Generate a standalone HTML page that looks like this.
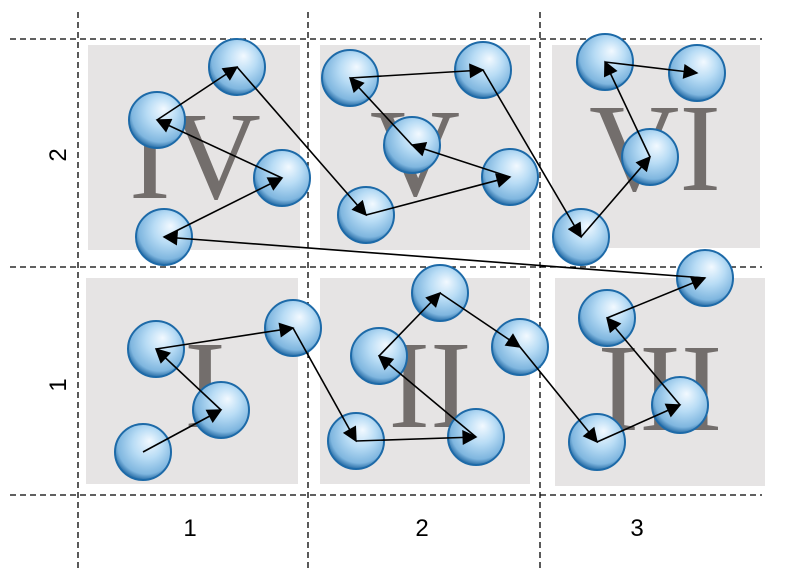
<!DOCTYPE html>
<html><head><style>body{margin:0;background:#fff}svg{display:block}</style></head><body>
<svg width="787" height="586" viewBox="0 0 787 586" xmlns="http://www.w3.org/2000/svg">
<defs>
<radialGradient id="g" cx="0.55" cy="0.4" r="0.6" fx="0.62" fy="0.3">
<stop offset="0" stop-color="#f2f9ff"/><stop offset="0.45" stop-color="#b8dcf5"/><stop offset="0.85" stop-color="#7fb6df"/><stop offset="1" stop-color="#2a6fa8"/>
</radialGradient>
<marker id="b" viewBox="0 0 10 10" refX="9" refY="5" markerWidth="20" markerHeight="15" orient="auto" markerUnits="userSpaceOnUse"><path d="M0,0L10,5L0,10z" fill="#000"/></marker>
</defs>
<g fill="#e6e4e4">
<rect x="88" y="45" width="212" height="205"/><rect x="320" y="45" width="210" height="205"/><rect x="552" y="45" width="208" height="203"/>
<rect x="86" y="278" width="212" height="206"/><rect x="320" y="278" width="210" height="206"/><rect x="555" y="278" width="210" height="208"/>
</g>
<g font-family="Liberation Serif, serif" font-size="125" fill="#736e6c" text-anchor="middle">
<text x="195" y="198">IV</text><text x="415" y="195">V</text><text x="655" y="190">VI</text>
<text x="205" y="427">I</text><text x="430" y="427">II</text><text x="660" y="430">III</text>
</g>
<g stroke="#000" stroke-width="1.3" stroke-dasharray="6,4" fill="none">
<line x1="10" y1="39" x2="762" y2="39"/><line x1="10" y1="267" x2="762" y2="267"/><line x1="10" y1="495" x2="762" y2="495"/>
<line x1="78" y1="12" x2="78" y2="572"/><line x1="308" y1="12" x2="308" y2="572"/><line x1="540" y1="12" x2="540" y2="572"/>
</g>
<g font-family="Liberation Sans, sans-serif" font-size="24" fill="#000" text-anchor="middle">
<text x="190" y="536">1</text><text x="422" y="536">2</text><text x="637" y="536">3</text>
<text transform="translate(66,155) rotate(-90)">2</text><text transform="translate(66,385) rotate(-90)">1</text>
</g>
<g fill="url(#g)" stroke="#1d6aa8" stroke-width="2">
<circle cx="237" cy="67" r="28"/><circle cx="157" cy="120" r="28"/><circle cx="282" cy="178" r="28"/><circle cx="164" cy="237" r="28"/>
<circle cx="350" cy="78" r="28"/><circle cx="483" cy="70" r="28"/><circle cx="412" cy="145" r="28"/><circle cx="510" cy="177" r="28"/><circle cx="366" cy="215" r="28"/>
<circle cx="605" cy="62" r="28"/><circle cx="697" cy="73" r="28"/><circle cx="650" cy="157" r="28"/><circle cx="581" cy="237" r="28"/>
<circle cx="705" cy="278" r="28"/>
<circle cx="156" cy="349" r="28"/><circle cx="293" cy="328" r="28"/><circle cx="221" cy="410" r="28"/><circle cx="143" cy="452" r="28"/>
<circle cx="440" cy="293" r="28"/><circle cx="379" cy="356" r="28"/><circle cx="520" cy="347" r="28"/><circle cx="356" cy="441" r="28"/><circle cx="476" cy="437" r="28"/>
<circle cx="607" cy="318" r="28"/><circle cx="680" cy="405" r="28"/><circle cx="597" cy="442" r="28"/>
</g>
<g stroke="#000" stroke-width="1.6" fill="none" marker-end="url(#b)">
<line x1="143" y1="452" x2="221" y2="410"/>
<line x1="221" y1="410" x2="156" y2="349"/>
<line x1="156" y1="349" x2="293" y2="328"/>
<line x1="293" y1="328" x2="356" y2="441"/>
<line x1="356" y1="441" x2="476" y2="437"/>
<line x1="476" y1="437" x2="379" y2="356"/>
<line x1="379" y1="356" x2="440" y2="293"/>
<line x1="440" y1="293" x2="520" y2="347"/>
<line x1="520" y1="347" x2="597" y2="442"/>
<line x1="597" y1="442" x2="680" y2="405"/>
<line x1="680" y1="405" x2="607" y2="318"/>
<line x1="607" y1="318" x2="705" y2="278"/>
<line x1="705" y1="278" x2="164" y2="237"/>
<line x1="164" y1="237" x2="282" y2="178"/>
<line x1="282" y1="178" x2="157" y2="120"/>
<line x1="157" y1="120" x2="237" y2="67"/>
<line x1="237" y1="67" x2="366" y2="215"/>
<line x1="366" y1="215" x2="510" y2="177"/>
<line x1="510" y1="177" x2="412" y2="145"/>
<line x1="412" y1="145" x2="350" y2="78"/>
<line x1="350" y1="78" x2="483" y2="70"/>
<line x1="483" y1="70" x2="581" y2="237"/>
<line x1="581" y1="237" x2="650" y2="157"/>
<line x1="650" y1="157" x2="605" y2="62"/>
<line x1="605" y1="62" x2="697" y2="73"/>
</g>
</svg>
</body></html>
